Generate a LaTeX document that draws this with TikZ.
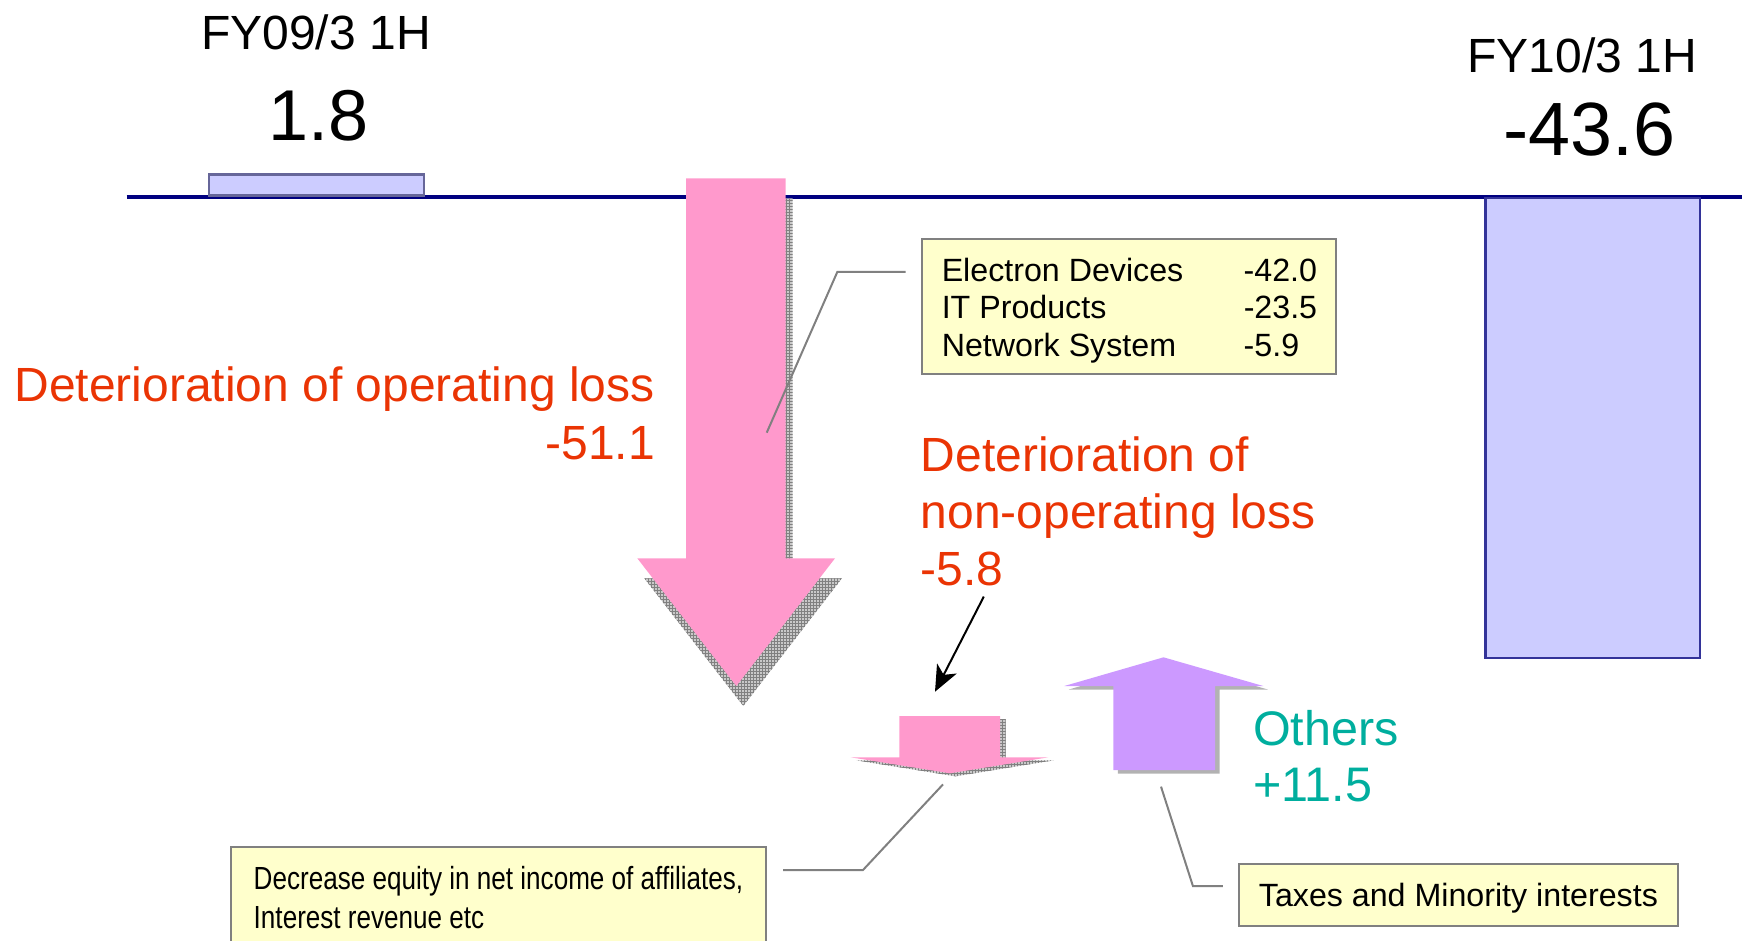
\documentclass[tikz,border=0pt]{standalone}
\usepackage{fontspec}
\setmainfont{Liberation Sans}
\newfontfamily\narrowfont[FakeStretch=0.815]{Liberation Sans}
\usetikzlibrary{patterns,arrows.meta,calc}

\definecolor{axisnavy}{RGB}{0,0,128}
\definecolor{barfill}{RGB}{204,204,255}
\definecolor{baredgeA}{RGB}{102,102,153}
\definecolor{baredgeB}{RGB}{51,51,153}
\definecolor{lossPink}{RGB}{255,153,204}
\definecolor{gainPurple}{RGB}{204,153,255}
\definecolor{notefill}{RGB}{255,255,204}
\definecolor{noteedge}{RGB}{128,128,128}
\definecolor{lossred}{RGB}{234,52,4}
\definecolor{gainteal}{RGB}{0,174,158}
\definecolor{shadowgray}{RGB}{178,178,178}

\begin{document}
\begin{tikzpicture}[x=1pt,y=-1pt,
  bar/.style={fill=barfill,line width=2.5pt,inner sep=0pt},
  note/.style={draw=noteedge,fill=notefill,line width=2pt,inner sep=0pt},
  callout/.style={draw=noteedge,line width=2pt},
  hatchshadow/.style={fill=shadowgray!70,postaction={pattern=grid,pattern color=gray}},
  bigtext/.style={inner sep=0pt,font=\fontsize{48}{57.5}\selectfont},
  valuetext/.style={inner sep=0pt,anchor=base},
  notetext/.style={font=\fontsize{32.2}{37.5}\selectfont}]

\useasboundingbox (0,0) rectangle (1742,941);

% zero line of the chart
\coordinate (axisL) at (126.7,197);
\coordinate (axisR) at (1742,197);
\draw[axisnavy,line width=4pt] (axisL) -- (axisR);

% result bars
\node[bar,draw=baredgeA,minimum width=215pt,minimum height=21.3pt,anchor=south west] (barA) at (207.7,197) {};
\node[bar,draw=baredgeB,minimum width=214.7pt,minimum height=459.7pt,anchor=north west] (barB) at (1484,197) {};

% period labels and values
\node[valuetext,font=\fontsize{48}{58}\selectfont] (fyA) at (316,50) {FY09/3 1H};
\node[valuetext,font=\fontsize{72}{86}\selectfont] (valA) at (318.6,141) {1.8};
\node[valuetext,font=\fontsize{48}{58}\selectfont] (fyB) at (1582,72.2) {FY10/3 1H};
\node[valuetext,font=\fontsize{75.5}{90}\selectfont] (valB) at (1589.7,155.5) {-43.6};

% operating loss arrow with hatched shadow
\fill[hatchshadow,shift={(7,20)}]
  (686,178.3) -- (785.7,178.3) -- (785.7,558.3) -- (835,558.3) -- (736.3,686)
  -- (637.3,558.3) -- (686,558.3) -- cycle;
\fill[lossPink]
  (686,178.3) -- (785.7,178.3) -- (785.7,558.3) -- (835,558.3) -- (736.3,686)
  -- (637.3,558.3) -- (686,558.3) -- cycle;
\coordinate (opPoint) at (766.7,432.7);

% non-operating loss arrow with hatched shadow
\fill[hatchshadow,shift={(5.5,3)}]
  (899.3,716) -- (1000,716) -- (1000,757.3) -- (1048.3,757.3) -- (950,773.3)
  -- (850.7,757.3) -- (899.3,757.3) -- cycle;
\fill[lossPink]
  (899.3,716) -- (1000,716) -- (1000,757.3) -- (1048.3,757.3) -- (950,773.3)
  -- (850.7,757.3) -- (899.3,757.3) -- cycle;
\coordinate (nonopPoint) at (943,784.4);
\coordinate (nonopTarget) at (935,691.7);

% others arrow with plain shadow
\fill[shadowgray,shift={(4.5,3.5)}]
  (1113.3,770) -- (1113.3,686) -- (1064.3,686) -- (1163.5,657.3) -- (1263.3,686)
  -- (1215,686) -- (1215,770) -- cycle;
\fill[gainPurple]
  (1113.3,770) -- (1113.3,686) -- (1064.3,686) -- (1163.5,657.3) -- (1263.3,686)
  -- (1215,686) -- (1215,770) -- cycle;
\coordinate (othersPoint) at (1161,786.6);

% red and teal labels
\node[bigtext,text=lossred,align=right,anchor=north east] (opLabel) at (655,366.7)
  {Deterioration of operating loss\\-51.1};
\node[bigtext,text=lossred,align=left,anchor=north west,font=\fontsize{48}{56.7}\selectfont] (nonopLabel) at (920.5,436.7)
  {Deterioration of\\non-operating loss\\-5.8};
\node[bigtext,text=gainteal,align=left,anchor=north west,font=\fontsize{48.5}{56}\selectfont] (othersLabel) at (1253,710)
  {Others\\+11.5};

% breakdown notes
\node[note,notetext,minimum width=414pt,minimum height=135pt] (segments) at (1128.7,306.5)
  {\hspace*{1.5pt}\raisebox{-4.5pt}[\height][\depth]{\begin{tabular}{@{}p{302pt}@{}l@{}}
    Electron Devices & -42.0\\
    IT Products & -23.5\\
    Network System & -5.9
  \end{tabular}}};
\node[note,align=left,anchor=north west,minimum width=535pt,inner ysep=19.6pt,
      font=\narrowfont\fontsize{32}{38.5}\selectfont] (affiliates) at (230,846)
  {Decrease equity in net income of affiliates,\\Interest revenue etc};
\node[note,notetext,minimum width=439pt,minimum height=62pt,text depth=0pt] (taxes) at (1458.4,895)
  {Taxes and Minority interests};

% callout lines
\draw[callout] ($(segments.west)+(-15,-34.5)$) -- ++(-68.4,0) -- (opPoint);
\draw[callout] ($(affiliates.north east)+(16,24)$) -- ++(80,0) -- (nonopPoint);
\draw[callout] ($(taxes.west)+(-15,-9)$) -- ++(-30,0) -- (othersPoint);

% pointer to the non-operating arrow
\coordinate (nonopFrom) at (983.8,596.6);
\draw[line width=2pt,-{Stealth[length=26pt,width=22pt,inset=7pt]}] (nonopFrom) -- (nonopTarget);

\end{tikzpicture}
\end{document}
